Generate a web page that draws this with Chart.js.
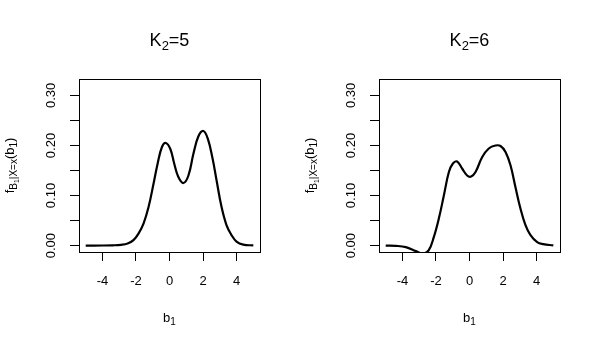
<!DOCTYPE html>
<html>
<head>
<meta charset="utf-8">
<script src="https://cdn.jsdelivr.net/npm/chart.js@4.4.0/dist/chart.umd.min.js"></script>
<style>
  body { margin: 0; background: #fff; width: 600px; height: 350px; position: relative; overflow: hidden; }
  .panel { position: absolute; top: 0; width: 300px; height: 350px; }
</style>
</head>
<body>
<div class="panel" style="left:0"><canvas id="k5" width="300" height="350"></canvas></div>
<div class="panel" style="left:300px"><canvas id="k6" width="300" height="350"></canvas></div>
<script>
// density curves
const b1K5 = [-5, -4, -3.4, -2.9, -2.5, -2.15, -1.85, -1.55, -1.25, -0.95, -0.7, -0.45, -0.22, 0.05, 0.28, 0.53, 0.83, 1.13, 1.43, 1.72, 2.02, 2.28, 2.57, 2.81, 3.1, 3.4, 3.7, 4.0, 4.4, 5];
const fK5  = [0, 0.0002, 0.0006, 0.0015, 0.004, 0.011, 0.024, 0.044, 0.077, 0.124, 0.165, 0.197, 0.205, 0.193, 0.164, 0.137, 0.125, 0.14, 0.184, 0.218, 0.229, 0.214, 0.174, 0.13, 0.078, 0.041, 0.021, 0.008, 0.002, 0.0003];

const b1K6 = [-5, -4.4, -3.8, -3.2, -2.8, -2.43, -2.13, -1.83, -1.53, -1.23, -0.99, -0.74, -0.44, -0.14, 0.1, 0.36, 0.76, 1.15, 1.55, 1.85, 2.15, 2.45, 2.74, 3.04, 3.34, 3.64, 4.04, 4.4, 5];
const fK6  = [0, -0.0005, -0.003, -0.011, -0.016, -0.009, 0.017, 0.054, 0.1, 0.147, 0.164, 0.168, 0.154, 0.14, 0.138, 0.147, 0.177, 0.194, 0.2, 0.199, 0.187, 0.16, 0.117, 0.074, 0.041, 0.021, 0.007, 0.003, 0.0003];

const xTicks = [-4, -2, 0, 2, 4];
const yTicks = [0, 0.05, 0.10, 0.15, 0.20, 0.25, 0.30];
const yTickLabels = ['0.00', '', '0.10', '', '0.20', '', '0.30'];

const FONT = '"Liberation Sans", Arial, Helvetica, sans-serif';

// draws text pieces of varying size/offset (for subscripts), centred on x
function richText(ctx, parts, x, y, angle) {
  ctx.save();
  ctx.translate(x, y);
  ctx.rotate(angle || 0);
  ctx.textAlign = 'left';
  ctx.textBaseline = 'alphabetic';
  ctx.fillStyle = '#000';
  let w = 0;
  parts.forEach(p => { ctx.font = p[1] + 'px ' + FONT; w += ctx.measureText(p[0]).width; });
  let cx = -w / 2;
  parts.forEach(p => {
    ctx.font = p[1] + 'px ' + FONT;
    ctx.fillText(p[0], cx, p[2]);
    cx += ctx.measureText(p[0]).width;
  });
  ctx.restore();
}

const rPlot = {
  id: 'rPlot',
  afterDraw(chart, args, opts) {
    const ctx = chart.ctx;
    const a = chart.chartArea;
    const mid = (a.left + a.right) / 2;
    ctx.save();
    ctx.strokeStyle = '#000';
    ctx.lineWidth = 1;
    ctx.strokeRect(Math.round(a.left) + 0.5, Math.round(a.top) + 0.5,
                   Math.round(a.right - a.left), Math.round(a.bottom - a.top));
    ctx.restore();
    richText(ctx, [['K', 18, 0], [opts.sub, 13, 4], [opts.rest, 18, 0]], mid, 46);
    richText(ctx, [['b', 13, 0], ['1', 10, 3]], mid, 322);
    richText(ctx, [['f', 13, 0], ['B', 10, 3], ['1', 7, 5], ['|X=x', 10, 3], ['(b', 13, 0], ['1', 10, 3], [')', 13, 0]],
             14, (a.top + a.bottom) / 2, -Math.PI / 2);
  }
};

const makePanel = (id, xs, ys, sub, rest) => {
  return new Chart(document.getElementById(id), {
    type: 'line',
    data: {
      datasets: [{
        data: xs.map((x, i) => ({ x: x, y: ys[i] })),
        borderColor: '#000',
        borderWidth: 2.2,
        pointRadius: 0,
        tension: 0.4,
        fill: false,
        clip: 0
      }]
    },
    plugins: [rPlot],
    options: {
      responsive: false,
      animation: false,
      layout: { padding: { top: 79, right: 40, left: 0, bottom: 0 } },
      plugins: {
        legend: { display: false },
        tooltip: { enabled: false },
        rPlot: { sub: sub, rest: rest }
      },
      scales: {
        x: {
          type: 'linear',
          min: -5.4,
          max: 5.4,
          afterBuildTicks: s => { s.ticks = xTicks.map(v => ({ value: v })); },
          afterFit: s => { s.height = 98; },
          border: { display: false },
          grid: { drawOnChartArea: false, tickLength: 9, color: '#000', tickWidth: 1 },
          ticks: { color: '#000', font: { family: FONT, size: 13 }, padding: 13, maxRotation: 0,
                   callback: v => String(v) }
        },
        y: {
          type: 'linear',
          min: -0.0128,
          max: 0.3328,
          afterBuildTicks: s => { s.ticks = yTicks.map(v => ({ value: v })); },
          afterFit: s => { s.width = 79; },
          border: { display: false },
          grid: { drawOnChartArea: false, tickLength: 9, color: '#000', tickWidth: 1 },
          ticks: { color: '#000', font: { family: FONT, size: 13 }, padding: 6,
                   minRotation: 90, maxRotation: 90, crossAlign: 'center',
                   callback: (v, i) => yTickLabels[i] }
        }
      }
    }
  });
};

makePanel('k5', b1K5, fK5, '2', '=5');
makePanel('k6', b1K6, fK6, '2', '=6');
</script>
</body>
</html>
